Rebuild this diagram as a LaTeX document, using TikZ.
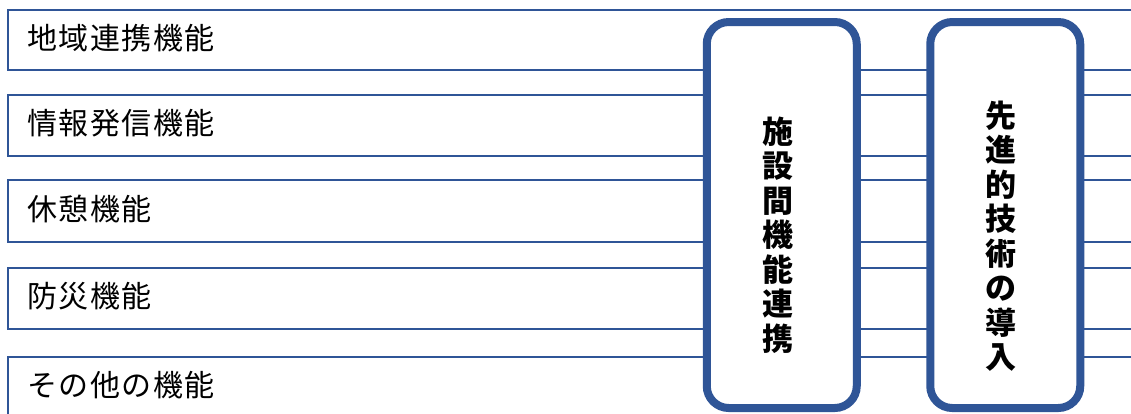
\documentclass[tikz,border=0pt]{standalone}
\usepackage{fontspec}
\usepackage{xcolor}
\usepackage{tikz}

\newfontfamily\jpfont[LetterSpace=5]{Noto Sans CJK JP}
\newfontfamily\jpboldfont{Noto Sans CJK JP}
\definecolor{bandblue}{HTML}{2F5597}

\begin{document}
\begin{tikzpicture}[x=1pt, y=-1pt,
    bandline/.style={draw=bandblue, line width=2pt},
    bandlabel/.style={anchor=west, inner sep=0pt, font={\jpfont\fontsize{30}{34}\selectfont}},
    linkbox/.style={draw=bandblue, line width=8pt, fill=white, rounded corners=22pt,
        minimum width=150pt, minimum height=386pt, inner sep=0pt},
    linktext/.style={align=center, inner sep=0pt, font={\jpboldfont\bfseries\fontsize{31}{34.5}\selectfont}}]
    \useasboundingbox (0,0) rectangle (1131,413);
    \clip (0,0) rectangle (1131,413);

    % Function bands (open to the right)
    \foreach \top/\bot/\name/\txt in {10/70/f1/地域連携機能, 95/156/f2/情報発信機能,
        180/242/f3/休憩機能, 268/329/f4/防災機能, 357/418/f5/その他の機能} {
        \draw[bandline] (1140,\top) -- (8,\top) -- (8,\bot) -- (1140,\bot);
        \node[bandlabel] (\name) at (27,{(\top+\bot)/2-2}) {\txt};
    }

    % Cross-cutting boxes
    \node[linkbox] (kyoten) at (781.75,215) {};
    \node[linktext] (kyotentxt) at (777.5,235) {施\\設\\間\\機\\能\\連\\携};

    \node[linkbox] (gijutsu) at (1005.25,215) {};
    \node[linktext] (gijutsutxt) at (1001,236) {先\\進\\的\\技\\術\\の\\導\\入};
\end{tikzpicture}
\end{document}
